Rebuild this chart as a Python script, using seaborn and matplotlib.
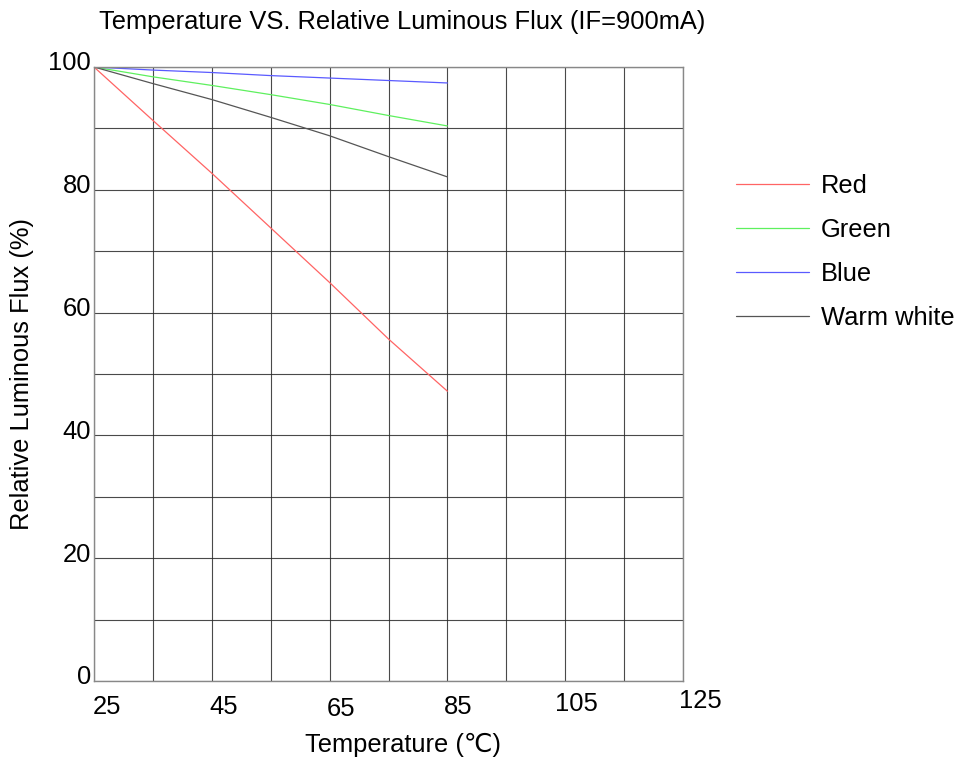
import matplotlib
matplotlib.use("Agg")
import matplotlib.pyplot as plt
import matplotlib.transforms as mtransforms
import numpy as np
import pandas as pd
import seaborn as sns

# Measured relative luminous flux vs. junction temperature (IF = 900 mA)
temperature = [25, 35, 45, 55, 65, 75, 85]
red = [100, 91.3, 82.7, 73.8, 64.9, 55.7, 47.2]
green = [100, 98.4, 97.0, 95.5, 93.9, 92.1, 90.4]
blue = [100, 99.5, 99.1, 98.6, 98.2, 97.8, 97.4]
warm_white = [100, 97.3, 94.7, 91.8, 88.8, 85.4, 82.1]

series_names = ["Red", "Green", "Blue", "Warm white"]
x_tick_labels = ["25", "45", "65", "85", "105", "125"]
y_tick_labels = ["0", "20", "40", "60", "80", "100"]

df = pd.DataFrame({
    "Temperature": temperature * 4,
    "Flux": red + green + blue + warm_white,
    "Series": sum([[n] * len(temperature) for n in series_names], []),
})

sns.set_theme(style="white")
plt.rcParams["font.family"] = ["Liberation Sans", "DejaVu Sans"]
plt.rcParams["text.color"] = "black"
plt.rcParams["axes.labelcolor"] = "black"

FS = 18.4
palette = {"Red": "#ff6464", "Green": "#5ef05e", "Blue": "#5a5aff", "Warm white": "#555555"}

fig = plt.figure(figsize=(9.59, 7.62), dpi=100)
W, H = 959, 762
ax = fig.add_axes([94 / W, 1 - 681 / H, (683 - 94) / W, (681 - 67) / H])

sns.lineplot(data=df, x="Temperature", y="Flux", hue="Series", palette=palette,
             hue_order=series_names, linewidth=0.9, ax=ax, legend=False)

ax.set_xlim(25, 125)
ax.set_ylim(0, 100)

# grid every 10 units (kept even where it coincides with labelled ticks)
ax.xaxis.remove_overlapping_locs = False
ax.yaxis.remove_overlapping_locs = False
ax.set_xticks(np.arange(25, 126, 10), minor=True)
ax.set_yticks(np.arange(0, 101, 10), minor=True)
ax.grid(True, which="minor", color="#2a2a2a", linewidth=0.8, alpha=0.85)
ax.grid(False, which="major")
ax.set_axisbelow(True)

ax.set_xticks([int(t) for t in x_tick_labels])
ax.set_xticklabels(x_tick_labels, fontsize=FS)
ax.set_yticks([int(t) for t in y_tick_labels])
ax.set_yticklabels(y_tick_labels, fontsize=FS)
ax.tick_params(which="both", length=0, pad=2, colors="black")

# shift tick labels off the grid lines
x_offsets = [(13, -11), (12, -11), (11, -13), (11, -11), (11, -8), (17, -5)]
for lbl, (dx, dy) in zip(ax.get_xticklabels(), x_offsets):
    lbl.set_transform(lbl.get_transform() + mtransforms.ScaledTranslation(dx / 100, dy / 100, fig.dpi_scale_trans))
for lbl in ax.get_yticklabels():
    lbl.set_transform(lbl.get_transform() + mtransforms.ScaledTranslation(0, 6 / 100, fig.dpi_scale_trans))

for side in ["left", "bottom", "right", "top"]:
    ax.spines[side].set_color("#888888")
    ax.spines[side].set_linewidth(1.0)

ax.set_xlabel("")
ax.set_ylabel("")
fig.text(403 / W, 1 - 745 / H, "Temperature (℃)", fontsize=FS, ha="center", va="center")
fig.text(22 / W, 1 - 374 / H, "Relative Luminous Flux (%)", fontsize=FS,
         ha="center", va="center", rotation=90)
fig.text(402 / W, 1 - 22 / H, "Temperature VS. Relative Luminous Flux (IF=900mA)",
         fontsize=FS, ha="center", va="center")

# legend at the right of the plot
handles = [plt.Line2D([], [], color=palette[n], linewidth=0.9) for n in series_names]
fig.legend(handles, series_names, loc="upper left", bbox_to_anchor=(736 / W, 1 - 174 / H),
           frameon=False, fontsize=FS, handlelength=2.85, handletextpad=0.48,
           labelspacing=0.78, borderpad=0, borderaxespad=0)

fig.savefig("out.png", dpi=100)
